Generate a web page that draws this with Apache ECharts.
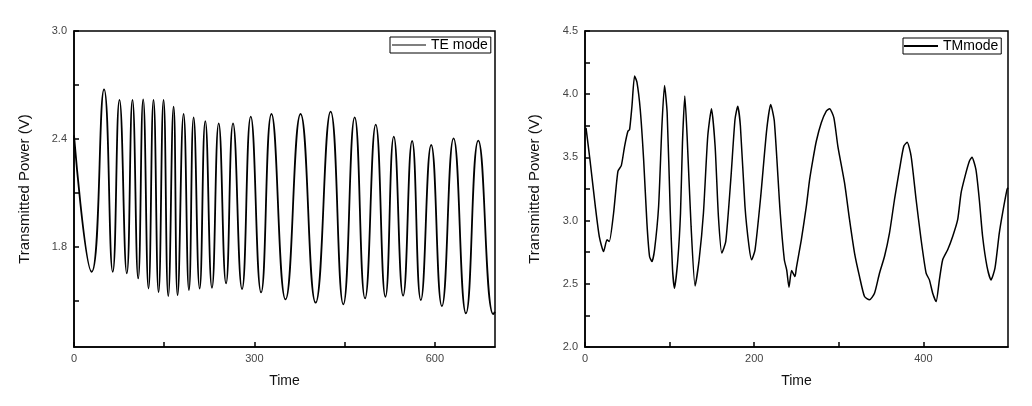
<!DOCTYPE html>
<html>
<head>
<meta charset="utf-8">
<script src="https://cdn.jsdelivr.net/npm/echarts@6/dist/echarts.min.js"></script>
<style>
html,body{margin:0;padding:0;background:#fff;}
#c{width:1032px;height:406px;}
</style>
</head>
<body>
<div id="c"></div>
<script>
// ---- TE mode (left panel) ----
const teTime = [0, 29.4, 50, 64.4, 75.6, 87.8, 97.2, 106.7, 115, 123.9, 132.2, 140.6, 148.9, 156.7, 165.6, 172.2, 182.2, 191.1, 198.9, 208.9, 218.3, 229.4, 240.6, 252.8, 264.4, 279.4, 293.9, 311.1, 328.3, 351.7, 376.7, 401.7, 426.7, 447.8, 466.7, 483.9, 501.7, 517.8, 531.7, 547.2, 562.2, 576.7, 593.9, 611.7, 631.1, 651.7, 672.2, 697, 700];
const teValue = [2.42, 1.663, 2.676, 1.663, 2.617, 1.654, 2.617, 1.626, 2.62, 1.57, 2.617, 1.55, 2.617, 1.528, 2.58, 1.533, 2.539, 1.561, 2.52, 1.57, 2.5, 1.574, 2.487, 1.598, 2.487, 1.567, 2.524, 1.548, 2.539, 1.509, 2.539, 1.491, 2.552, 1.482, 2.52, 1.515, 2.48, 1.524, 2.413, 1.53, 2.389, 1.506, 2.367, 1.472, 2.404, 1.432, 2.391, 1.428, 1.44];

// ---- TM mode (right panel) ----
const tmTime = [1.2, 6.3, 12.2, 16.9, 22, 26, 28.7, 33.8, 38.9, 42.9, 46.8, 50.7, 52.7, 55.5, 58.6, 61.4, 65.3, 69.3, 73.2, 76.3, 79.1, 82.2, 87, 90.9, 94, 97.1, 100.7, 103.5, 105.8, 109.7, 112.9, 115.2, 118, 120.7, 125.4, 130.1, 134.9, 140, 145.1, 149.5, 153.8, 157.7, 161.7, 166.4, 172.6, 177.3, 180.5, 183.7, 189.1, 193.9, 197, 201, 207.7, 214.8, 219.5, 223.8, 230.5, 235.6, 238.4, 241.1, 244.2, 248.2, 249.8, 255.7, 261.6, 265.5, 269.4, 273.4, 279.3, 285.2, 289.1, 294.2, 298.9, 306.8, 312.7, 318.6, 324.5, 330.4, 336.3, 342.2, 348.1, 354, 359.9, 365.8, 371.7, 376.8, 380.8, 385.5, 391.4, 397.3, 403.2, 407.1, 411, 415, 418.9, 422.8, 428.7, 434.6, 440.5, 444.5, 449.2, 454.3, 457.4, 462.1, 466.1, 470, 475.2, 479.9, 484.6, 489.7, 493.6, 498.8, 500];
const tmValue = [3.734, 3.456, 3.112, 2.874, 2.755, 2.848, 2.835, 3.06, 3.39, 3.435, 3.588, 3.707, 3.72, 3.905, 4.143, 4.096, 3.879, 3.483, 2.98, 2.716, 2.676, 2.769, 3.112, 3.747, 4.069, 3.853, 3.086, 2.61, 2.465, 2.69, 3.06, 3.615, 3.985, 3.667, 2.954, 2.483, 2.69, 3.06, 3.667, 3.885, 3.588, 3.033, 2.743, 2.835, 3.35, 3.8, 3.905, 3.747, 3.112, 2.795, 2.69, 2.769, 3.191, 3.72, 3.919, 3.786, 3.086, 2.69, 2.61, 2.473, 2.605, 2.557, 2.624, 2.848, 3.112, 3.324, 3.483, 3.628, 3.774, 3.866, 3.885, 3.813, 3.588, 3.298, 3.007, 2.743, 2.557, 2.399, 2.373, 2.425, 2.584, 2.716, 2.901, 3.165, 3.403, 3.588, 3.62, 3.509, 3.165, 2.848, 2.584, 2.531, 2.425, 2.359, 2.531, 2.69, 2.769, 2.874, 3.007, 3.218, 3.35, 3.469, 3.501, 3.403, 3.165, 2.874, 2.636, 2.531, 2.624, 2.901, 3.06, 3.245, 3.26];

// ---- tick labels ----
const teXLabels = [0, 300, 600];
const teXTicks = [0, 150, 300, 450, 600];
const teYLabels = [1.8, 2.4, 3.0];
const teYTicks = [1.5, 1.8, 2.1, 2.4, 2.7, 3.0];
const tmXLabels = [0, 200, 400];
const tmXTicks = [0, 100, 200, 300, 400];
const tmYLabels = [2.0, 2.5, 3.0, 3.5, 4.0, 4.5];
const tmYTicks = [2.0, 2.25, 2.5, 2.75, 3.0, 3.25, 3.5, 3.75, 4.0, 4.25, 4.5];

const zip = (a, b) => a.map((v, i) => [v, b[i]]);

const FONT = 'Liberation Sans, Arial, sans-serif';
const labelColor = '#444';
const nameColor = '#111';

function xAxis(gridIndex, max, labels, ticks) {
  return {
    type: 'value', gridIndex, min: 0, max,
    name: 'Time', nameLocation: 'middle', nameGap: 27,
    nameTextStyle: { fontFamily: FONT, fontSize: 14, color: nameColor },
    axisLine: { show: true, onZero: false, lineStyle: { color: '#000', width: 1.5 } },
    axisTick: { show: true, inside: true, length: 5, customValues: ticks, lineStyle: { color: '#000', width: 1.5 } },
    axisLabel: { customValues: labels, margin: 6, fontFamily: FONT, fontSize: 11, color: labelColor, formatter: v => String(v) },
    splitLine: { show: false }
  };
}
function yAxis(gridIndex, min, max, labels, ticks, gap) {
  return {
    type: 'value', gridIndex, min, max,
    name: 'Transmitted Power (V)', nameLocation: 'middle', nameGap: gap, nameRotate: 90,
    nameTextStyle: { fontFamily: FONT, fontSize: 15, color: nameColor },
    axisLine: { show: true, onZero: false, lineStyle: { color: '#000', width: 1.5 } },
    axisTick: { show: true, inside: true, length: 5, customValues: ticks, lineStyle: { color: '#000', width: 1.5 } },
    axisLabel: { customValues: labels, margin: 7, fontFamily: FONT, fontSize: 11, color: labelColor, formatter: v => Number(v).toFixed(1) },
    splitLine: { show: false }
  };
}

const chart = echarts.init(document.getElementById('c'), null, { renderer: 'canvas' });
chart.setOption({
  animation: false,
  backgroundColor: '#fff',
  grid: [
    { left: 74, top: 31, width: 421, height: 316, show: true, borderColor: '#000', borderWidth: 1.5, backgroundColor: 'transparent' },
    { left: 585, top: 31, width: 423, height: 316, show: true, borderColor: '#000', borderWidth: 1.5, backgroundColor: 'transparent' }
  ],
  xAxis: [
    xAxis(0, 700, teXLabels, teXTicks),
    xAxis(1, 500, tmXLabels, tmXTicks)
  ],
  yAxis: [
    yAxis(0, 1.245, 3.0, teYLabels, teYTicks, 42),
    yAxis(1, 2.0, 4.5, tmYLabels, tmYTicks, 43)
  ],
  legend: [
    { data: ['TE mode'], left: 390, top: 37, orient: 'vertical', borderColor: '#000', borderWidth: 1, borderRadius: 0,
      padding: [1, 3, 1, 2], icon: 'rect', itemWidth: 34, itemHeight: 1.2, itemGap: 0,
      itemStyle: { color: '#000' },
      textStyle: { fontFamily: FONT, fontSize: 14, color: '#000' } },
    { data: ['TMmode'], left: 903, top: 38, orient: 'vertical', borderColor: '#000', borderWidth: 1, borderRadius: 0,
      padding: [1, 3, 1, 1], icon: 'rect', itemWidth: 34, itemHeight: 2, itemGap: 0,
      itemStyle: { color: '#000' },
      textStyle: { fontFamily: FONT, fontSize: 14, color: '#000' } }
  ],
  series: [
    { name: 'TE mode', type: 'line', xAxisIndex: 0, yAxisIndex: 0, data: zip(teTime, teValue),
      symbol: 'none', smooth: 0.5, lineStyle: { color: '#000', width: 1.8 }, itemStyle: { color: '#000' } },
    { name: 'TMmode', type: 'line', xAxisIndex: 1, yAxisIndex: 1, data: zip(tmTime, tmValue),
      symbol: 'none', smooth: 0.2, lineStyle: { color: '#000', width: 1.5 }, itemStyle: { color: '#000' } }
  ]
});
</script>
</body>
</html>
